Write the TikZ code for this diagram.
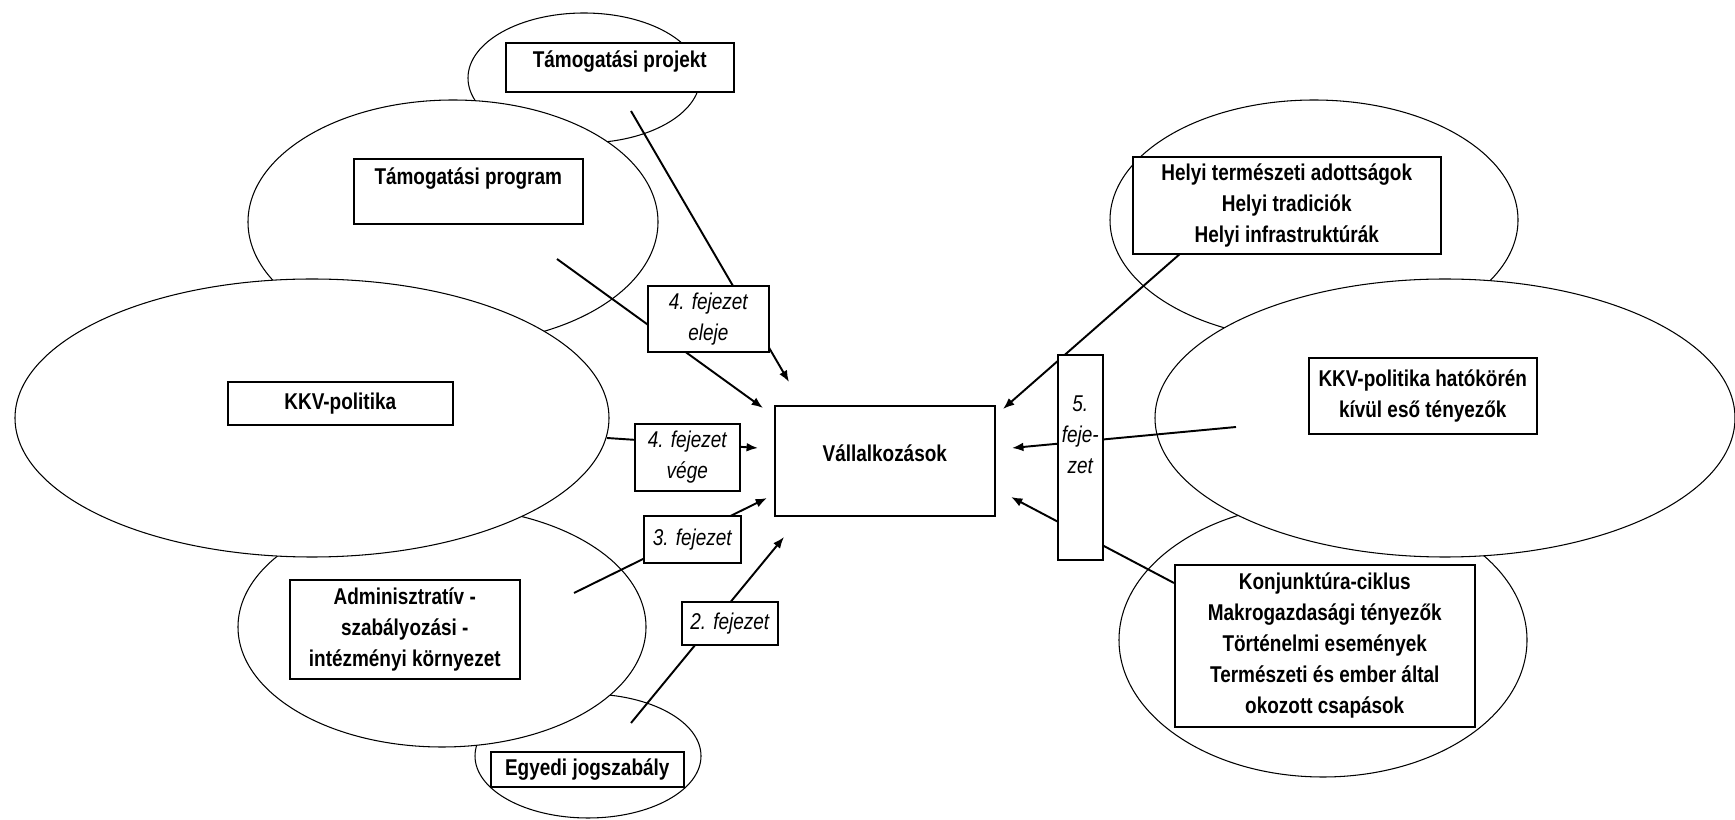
\documentclass[tikz,border=0pt]{standalone}
\usepackage{fontspec}
\setmainfont{Liberation Sans}[FakeStretch=0.83]
\usetikzlibrary{arrows.meta}
\newcommand{\dfont}{\fontsize{13}{17.6}\selectfont}

\begin{document}
\begin{tikzpicture}[x=0.02cm,y=-0.02cm,
    blob/.style={draw,fill=white,line width=0.6pt},
    box/.style={draw,fill=white,line width=0.9pt,anchor=north west,
      align=center,inner sep=0pt,font=\dfont\bfseries},
    chap/.style={box,font=\dfont\itshape},
    link/.style={line width=1.1pt,-{Latex[length=6.5pt,width=5pt]}}]
  \useasboundingbox (0,0) rectangle (1735,820);

  \draw[blob] (584,78) ellipse [x radius=116,y radius=65];
  \draw[blob] (453,222) ellipse [x radius=205,y radius=122];
  \draw[blob] (588,756) ellipse [x radius=113,y radius=62];
  \draw[blob] (442,627) ellipse [x radius=204,y radius=120];
  \draw[blob] (312,418) ellipse [x radius=297,y radius=139];

  \draw[blob] (1314,220) ellipse [x radius=204,y radius=120];
  \draw[blob] (1323,640) ellipse [x radius=204,y radius=137];
  \draw[blob] (1445,418) ellipse [x radius=290,y radius=139];

  \coordinate (c-proj) at (631,111);
  \coordinate (t-proj) at (789,382);
  \coordinate (c-prog) at (557,259);
  \coordinate (t-prog) at (763,408);
  \coordinate (c-kkv) at (607,438);
  \coordinate (t-kkv) at (758,448);
  \coordinate (c-adm) at (574,593);
  \coordinate (t-adm) at (767,498);
  \coordinate (c-egy) at (631,723);
  \coordinate (t-egy) at (784,537);
  \coordinate (c-hely) at (1181,253);
  \coordinate (t-hely) at (1003,409);
  \coordinate (c-kiv) at (1236,427);
  \coordinate (t-kiv) at (1012,448);
  \coordinate (c-konj) at (1174,583);
  \coordinate (t-konj) at (1011,497);

  \draw[link] (c-proj) -- (t-proj);
  \draw[link] (c-prog) -- (t-prog);
  \draw[link] (c-kkv) -- (t-kkv);
  \draw[link] (c-adm) -- (t-adm);
  \draw[link] (c-egy) -- (t-egy);
  \draw[link] (c-hely) -- (t-hely);
  \draw[link] (c-kiv) -- (t-kiv);
  \draw[link] (c-konj) -- (t-konj);

  \node[box,
    minimum width=4.56cm,
    text height=0.5cm,text depth=0.48cm] (projekt) at (505,42) {Támogatási projekt};
  \node[box,
    minimum width=4.58cm,
    minimum height=1.3cm] (program) at (353,158) {Támogatási program\\~};
  \node[box,
    minimum width=4.5cm,
    minimum height=0.86cm] (kkv) at (227,381) {KKV-politika};
  \node[box,
    minimum width=4.6cm,
    minimum height=1.98cm] (admin) at (289,579) {Adminisztratív -\\szabályozási -\\intézményi környezet};
  \node[box,
    minimum width=3.86cm,
    minimum height=0.7cm] (egyedi) at (490,751) {Egyedi jogszabály};
  \node[box,
    minimum width=4.4cm,
    text height=1.12cm,text depth=1.08cm] (vall) at (774,405) {Vállalkozások};

  \node[box,
    minimum width=6.16cm,
    minimum height=1.94cm] (helyi) at (1132,156) {Helyi természeti adottságok\\Helyi tradiciók\\Helyi infrastruktúrák};
  \node[box,
    minimum width=4.56cm,
    minimum height=1.52cm] (kivul) at (1308,357) {KKV-politika hatókörén\\kívül eső tényezők};
  \node[box,
    minimum width=6cm,
    minimum height=3.24cm] (konj) at (1174,564) {Konjunktúra-ciklus\\Makrogazdasági tényezők\\Történelmi események\\Természeti és ember által\\okozott csapások};

  \node[chap,
    minimum width=2.42cm,
    minimum height=1.32cm] (eleje) at (647,285) {4. fejezet\\eleje};
  \node[chap,
    minimum width=2.1cm,
    minimum height=1.34cm] (vege) at (634,423) {4. fejezet\\vége};
  \node[chap,
    minimum width=1.94cm,
    minimum height=0.94cm] (fej3) at (643,515) {3. fejezet};
  \node[chap,
    minimum width=1.92cm,
    minimum height=0.86cm] (fej2) at (681,601) {2. fejezet};
  \node[chap,
    minimum width=0.9cm,
    minimum height=4.1cm] (fej5) at (1057,354) {5.\\feje-\\zet\\~\\[-0.32cm]~};
\end{tikzpicture}
\end{document}
